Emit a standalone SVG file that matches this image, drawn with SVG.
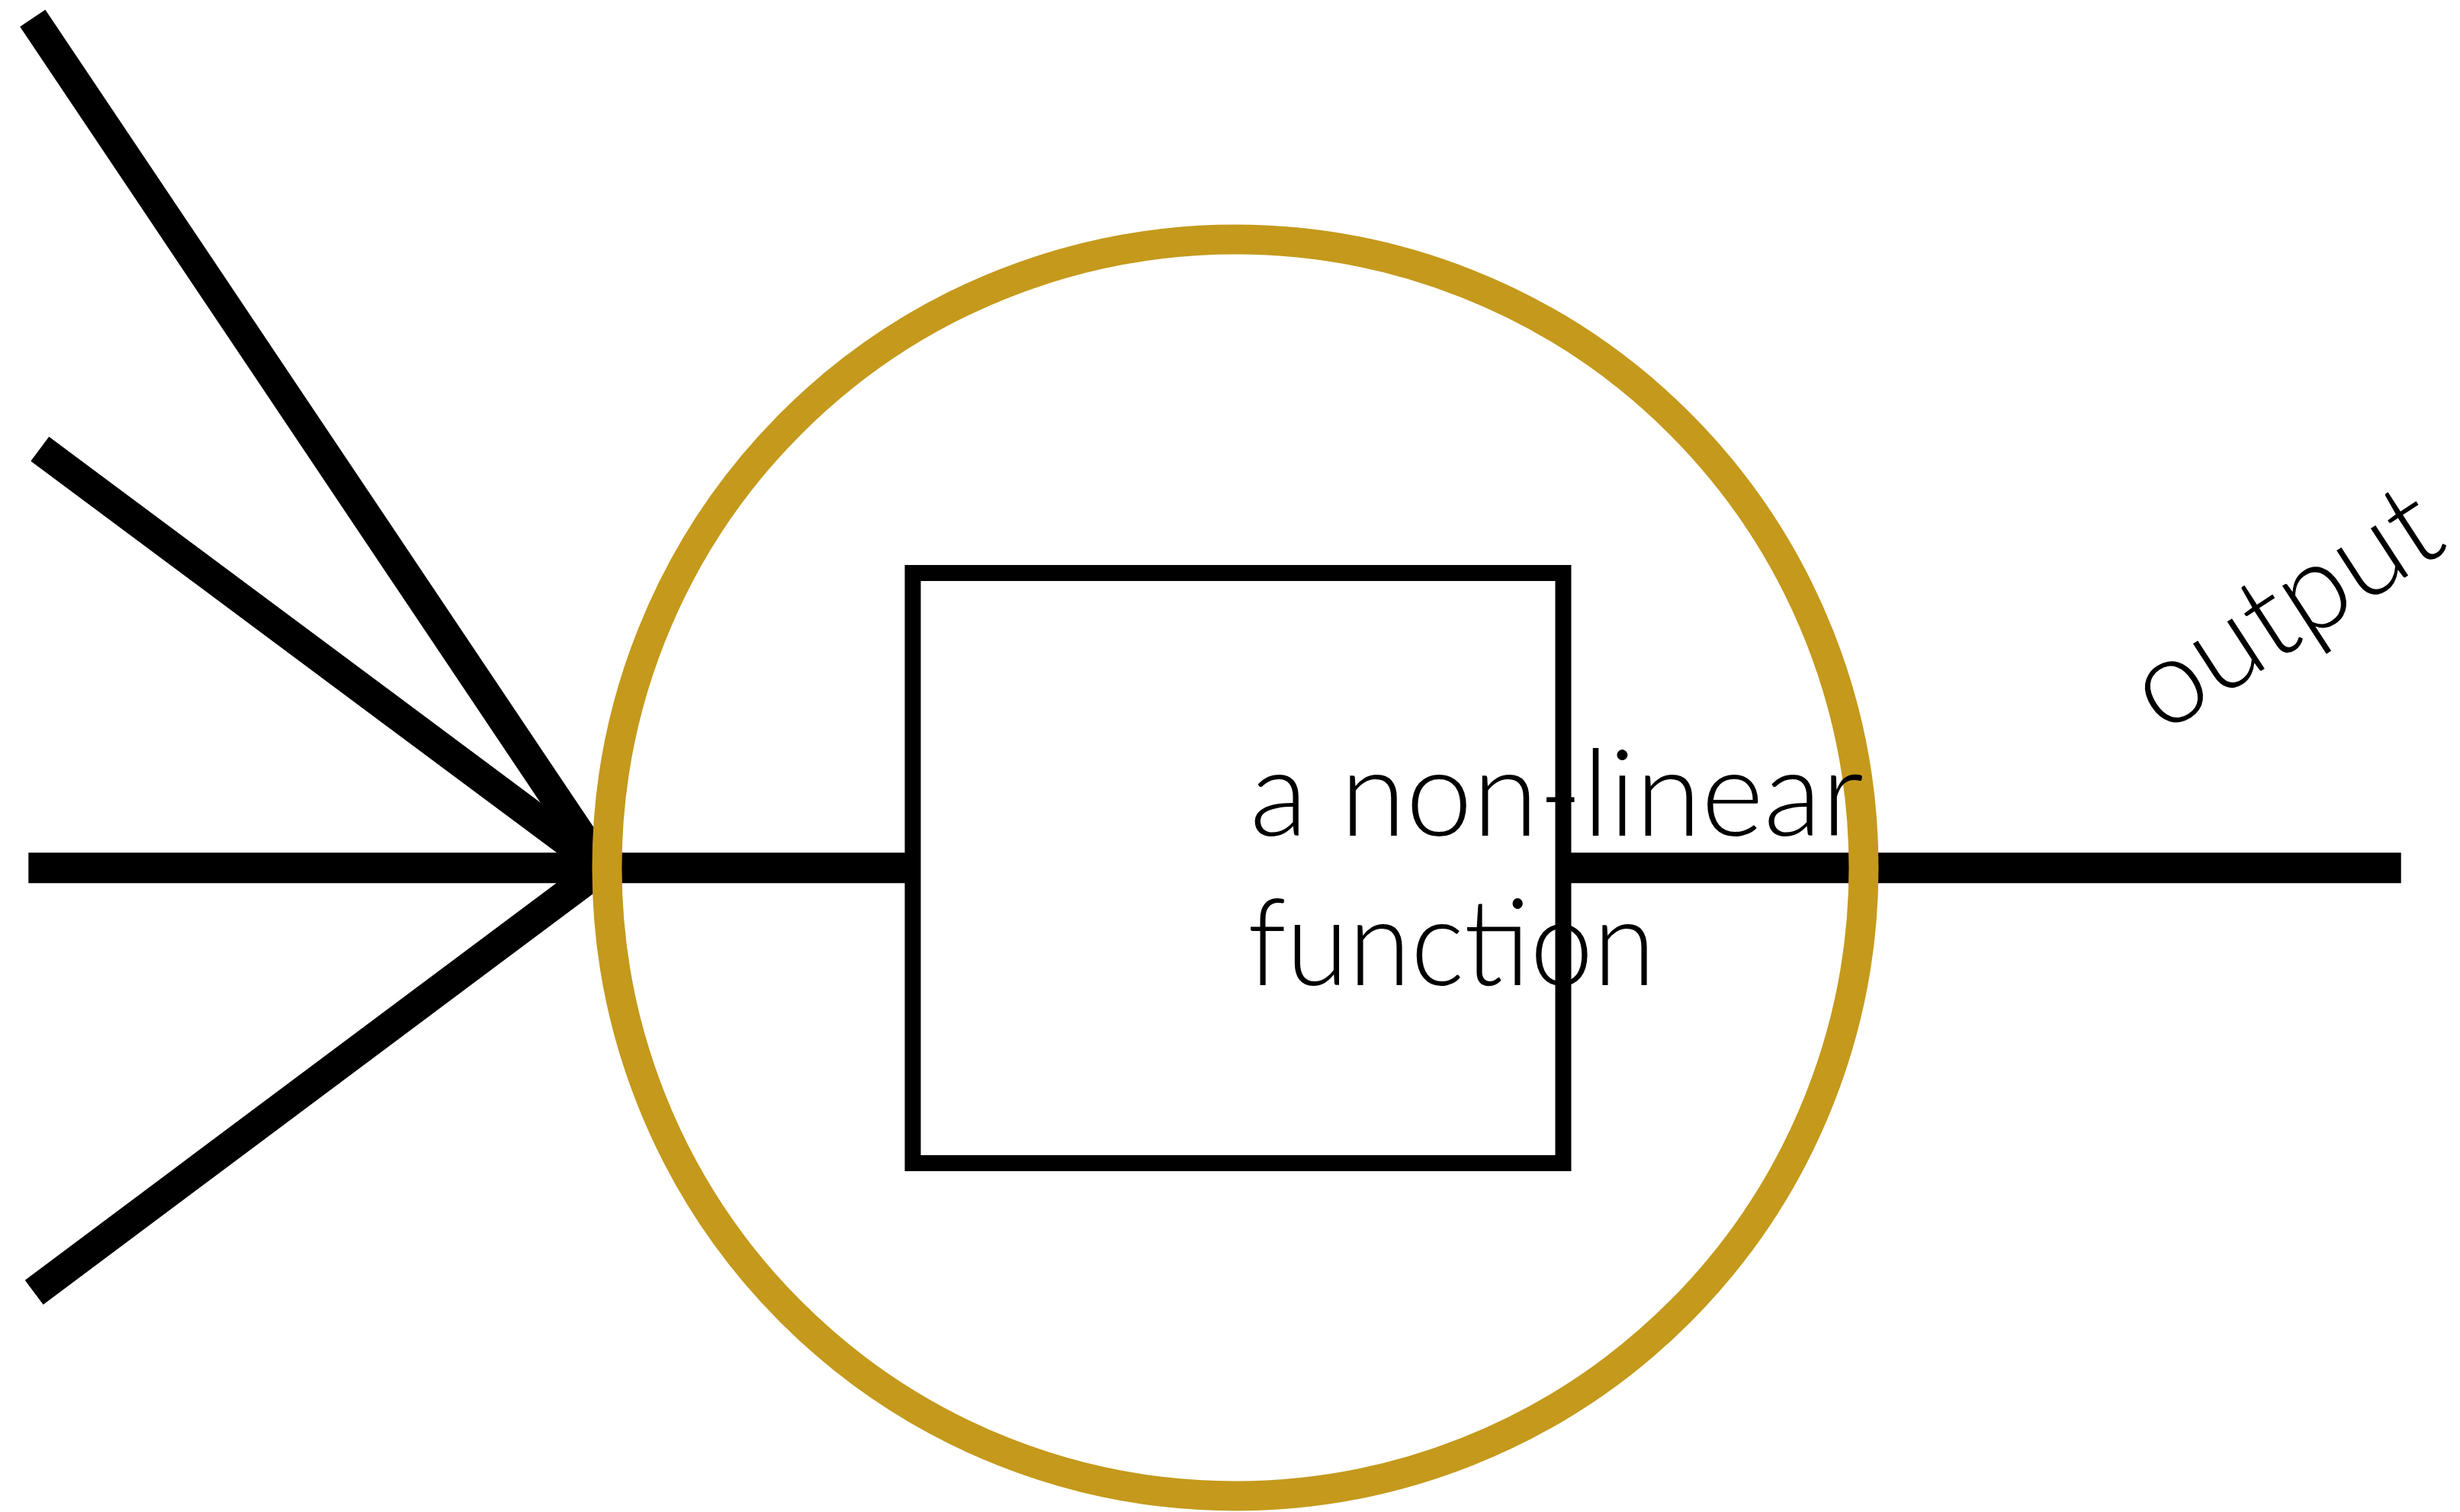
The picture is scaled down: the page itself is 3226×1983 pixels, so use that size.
<svg xmlns="http://www.w3.org/2000/svg" width="3226" height="1983" viewBox="0 0 3226 1983">
  <style>
    .wire { stroke: #000000; stroke-width: 40; stroke-linecap: butt; fill: none; }
    .ring { stroke: #C4991C; stroke-width: 39; fill: none; }
    .box { stroke: #000000; stroke-width: 21; fill: none; }
    .lbl { font-family: Lato, "Open Sans", "Liberation Sans", sans-serif; font-weight: 300; font-size: 158px; fill: #000000; }
  </style>
  <rect width="3226" height="1983" fill="#ffffff"/>
  <g id="connectors">
    <line class="wire" x1="42.8" y1="23.8" x2="790" y2="1138"/>
    <line class="wire" x1="52.3" y1="588.7" x2="790" y2="1138"/>
    <line class="wire" x1="44.7" y1="1695" x2="790" y2="1138"/>
    <line class="wire" x1="37.3" y1="1138.3" x2="1190" y2="1138.3"/>
    <line class="wire" x1="2050" y1="1138.3" x2="3148.7" y2="1138.3"/>
  </g>
  <g id="neuron">
    <circle class="ring" cx="1620" cy="1138" r="824"/>
  </g>
  <g id="function-box">
    <rect class="box" x="1197" y="751.5" width="853" height="774"/>
  </g>
  <g id="function-label">
    <text class="lbl" x="1639" y="1096" textLength="805" lengthAdjust="spacingAndGlyphs">a non-linear</text>
    <text class="lbl" x="1636" y="1292" textLength="535" lengthAdjust="spacingAndGlyphs">function</text>
  </g>
  <g id="output-label">
    <text class="lbl" x="0" y="0" transform="translate(2836 964) rotate(-33)" textLength="450" lengthAdjust="spacingAndGlyphs">output</text>
  </g>
</svg>
